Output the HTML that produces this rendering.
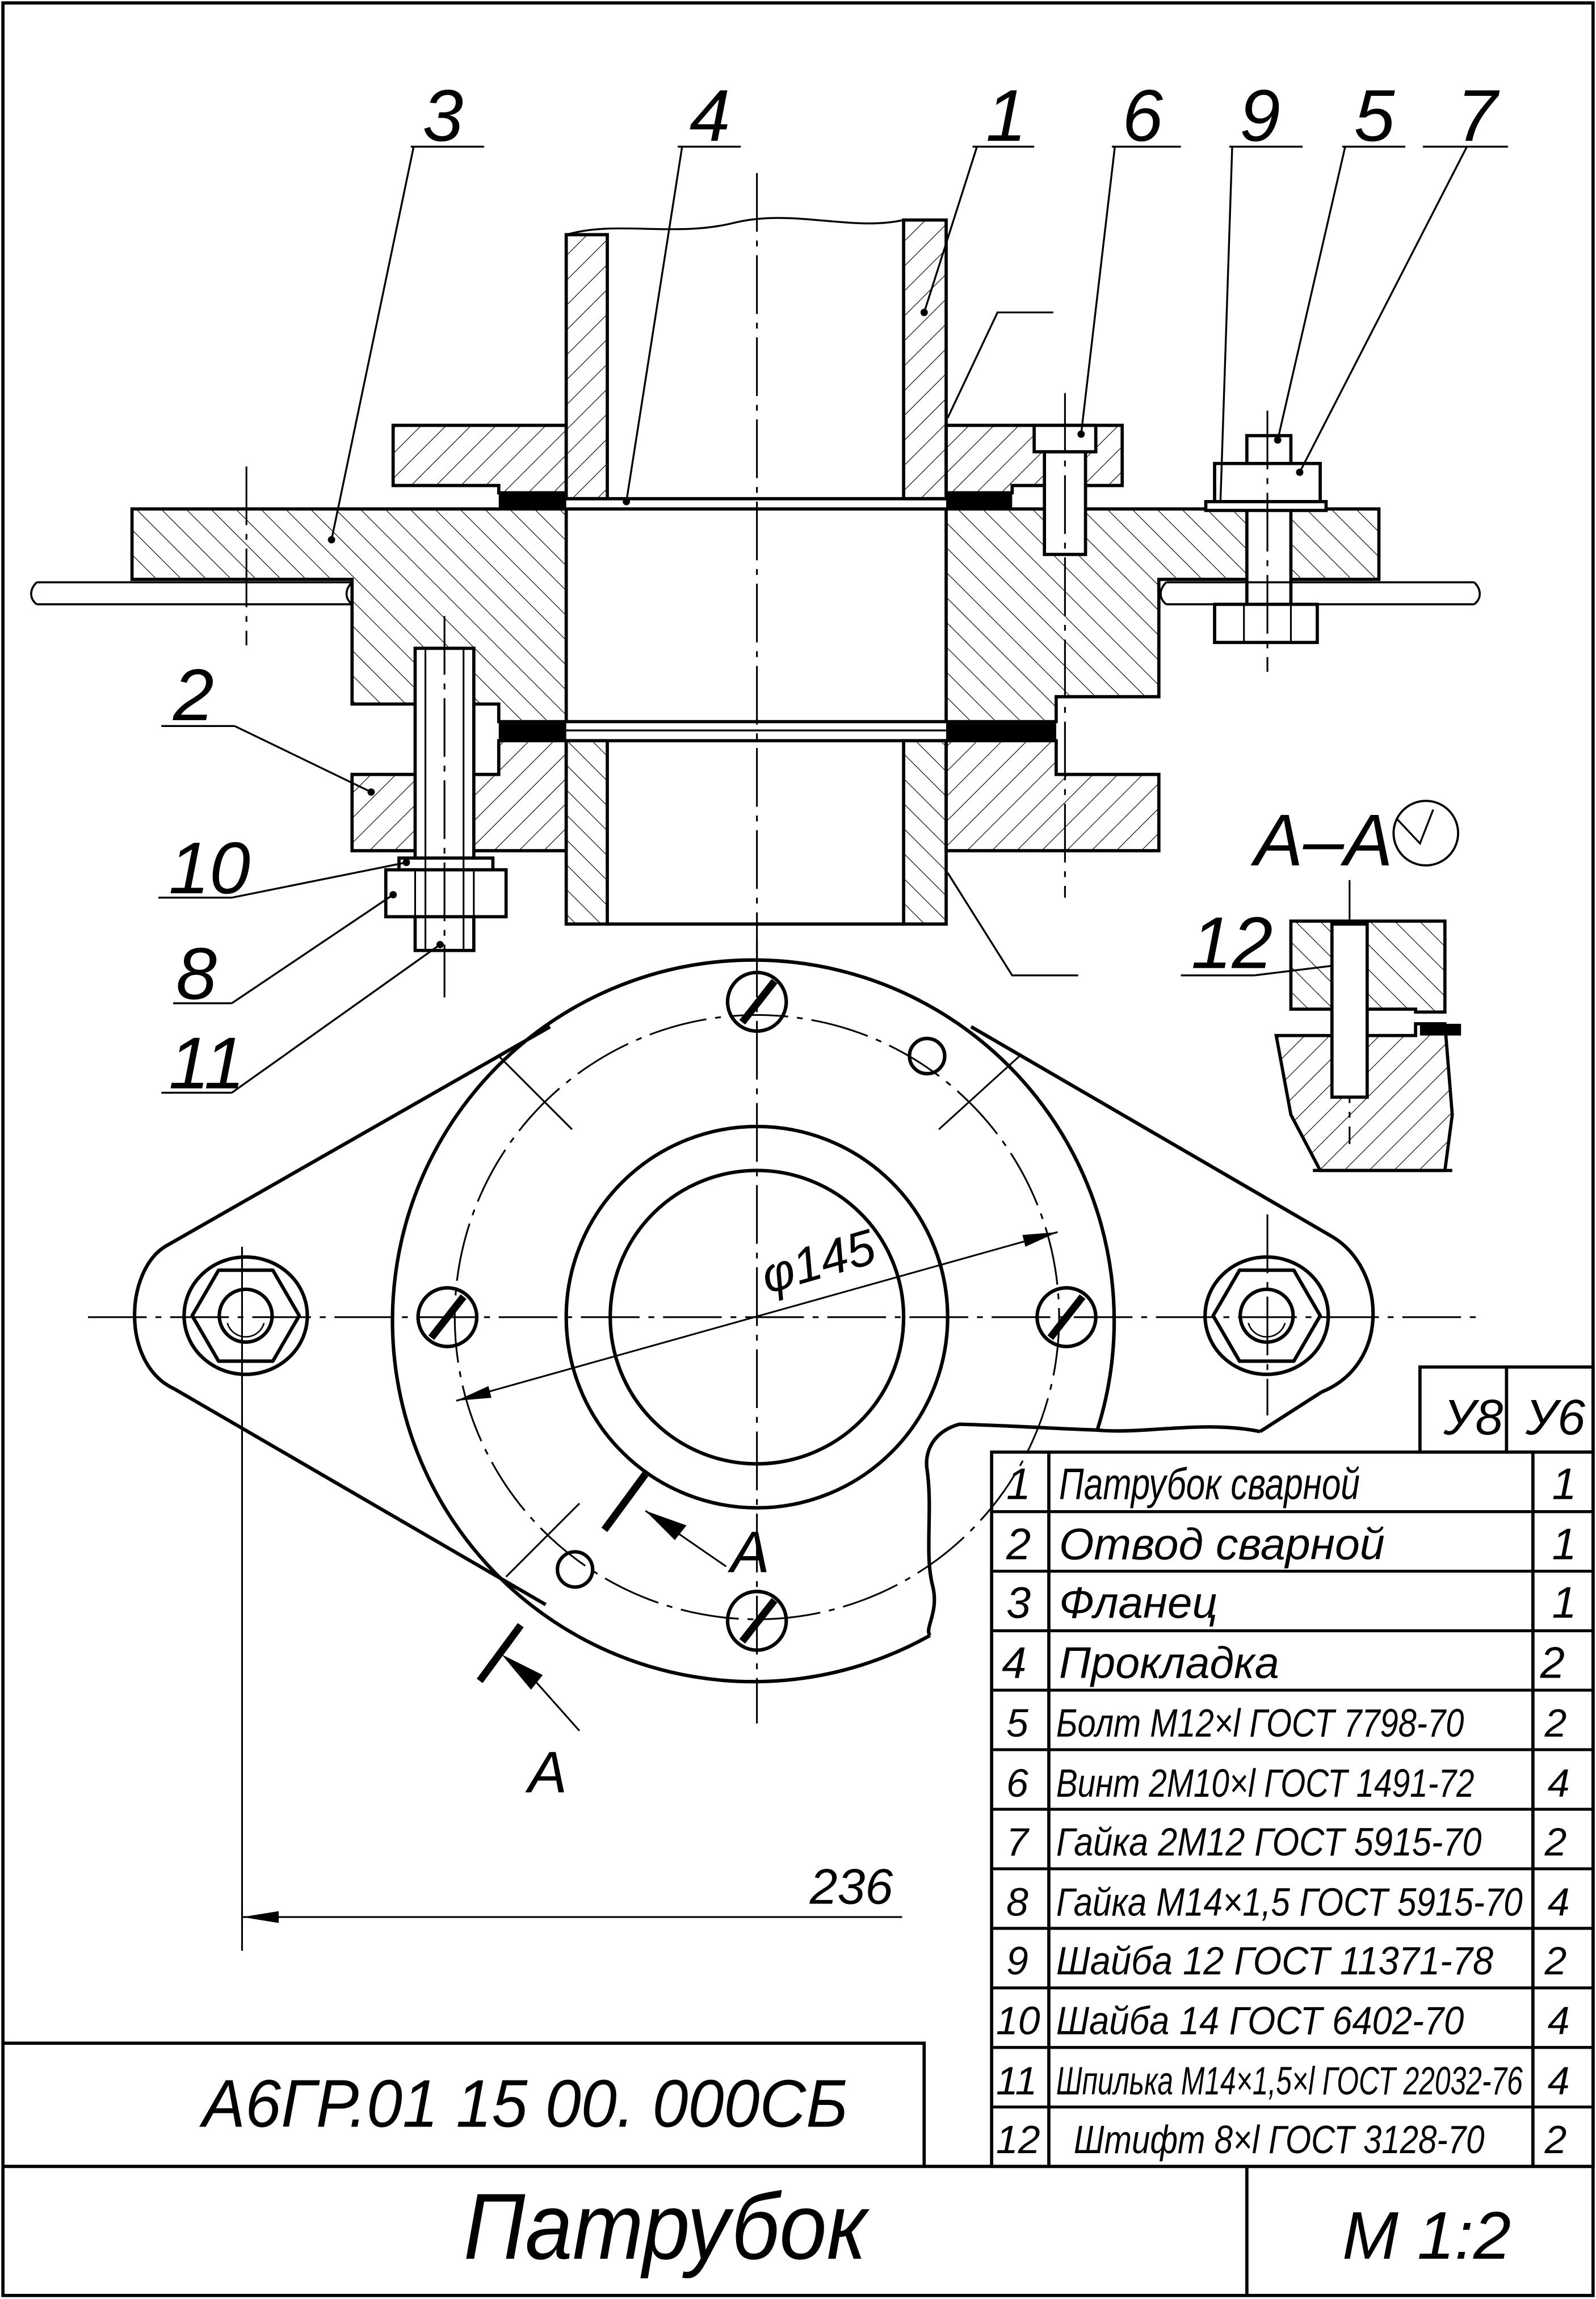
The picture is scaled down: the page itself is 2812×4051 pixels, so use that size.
<!DOCTYPE html>
<html><head><meta charset="utf-8"><style>
html,body{margin:0;padding:0;background:#fff}
svg{display:block}
text{font-family:"Liberation Sans","DejaVu Sans",sans-serif;font-style:italic;fill:#000}
</style></head><body>
<svg width="2812" height="4051" viewBox="0 0 1088 1567.4" preserveAspectRatio="none" xmlns="http://www.w3.org/2000/svg">
<defs>
<pattern id="h1" patternUnits="userSpaceOnUse" width="12" height="12" patternTransform="rotate(45)"><line x1="0" y1="0" x2="0" y2="12" stroke="#000" stroke-width="0.9"/></pattern>
<pattern id="h2" patternUnits="userSpaceOnUse" width="12" height="12" patternTransform="rotate(-45)"><line x1="0" y1="0" x2="0" y2="12" stroke="#000" stroke-width="0.9"/></pattern>
</defs>
<rect x="0" y="0" width="1088" height="1568" fill="#fff"/>
<g fill="none" stroke="#000" stroke-width="2.2">
<rect x="2" y="2" width="1084" height="1563"/>
<line x1="2" y1="1477" x2="1086" y2="1477"/>
<line x1="850" y1="1477" x2="850" y2="1565"/>
<polyline points="2,1393 630,1393 630,1477"/>
<rect x="968" y="932" width="118" height="58"/>
<line x1="1027" y1="932" x2="1027" y2="990"/>
<rect x="676" y="990" width="410" height="487"/>
<line x1="715" y1="990" x2="715" y2="1477"/>
<line x1="1045" y1="990" x2="1045" y2="1477"/>
</g>
<g stroke="#000" stroke-width="2">
<line x1="676" y1="1030.6" x2="1086" y2="1030.6"/><line x1="676" y1="1071.2" x2="1086" y2="1071.2"/>
<line x1="676" y1="1111.8" x2="1086" y2="1111.8"/><line x1="676" y1="1152.3" x2="1086" y2="1152.3"/>
<line x1="676" y1="1192.9" x2="1086" y2="1192.9"/><line x1="676" y1="1233.5" x2="1086" y2="1233.5"/>
<line x1="676" y1="1274.1" x2="1086" y2="1274.1"/><line x1="676" y1="1314.7" x2="1086" y2="1314.7"/>
<line x1="676" y1="1355.3" x2="1086" y2="1355.3"/><line x1="676" y1="1395.9" x2="1086" y2="1395.9"/>
<line x1="676" y1="1436.5" x2="1086" y2="1436.5"/>
</g>
<g font-size="30">
<text x="984" y="978" font-size="34">У8</text><text x="1040" y="978" font-size="34">У6</text>
<text x="686" y="1022">1</text><text x="722" y="1022" textLength="205" lengthAdjust="spacingAndGlyphs">Патрубок сварной</text><text x="1058" y="1022">1</text>
<text x="686" y="1063">2</text><text x="722" y="1063" textLength="222" lengthAdjust="spacingAndGlyphs">Отвод сварной</text><text x="1058" y="1063">1</text>
<text x="686" y="1103">3</text><text x="722" y="1103" textLength="108" lengthAdjust="spacingAndGlyphs">Фланец</text><text x="1058" y="1103">1</text>
<text x="683" y="1144">4</text><text x="722" y="1144" textLength="150" lengthAdjust="spacingAndGlyphs">Прокладка</text><text x="1050" y="1144">2</text>
</g>
<g font-size="27">
<text x="686" y="1184">5</text><text x="720" y="1184" textLength="278" lengthAdjust="spacingAndGlyphs">Болт М12×l ГОСТ 7798-70</text><text x="1053" y="1184">2</text>
<text x="686" y="1225">6</text><text x="720" y="1225" textLength="285" lengthAdjust="spacingAndGlyphs">Винт 2М10×l ГОСТ 1491-72</text><text x="1055" y="1225">4</text>
<text x="686" y="1265">7</text><text x="720" y="1265" textLength="290" lengthAdjust="spacingAndGlyphs">Гайка 2М12 ГОСТ 5915-70</text><text x="1053" y="1265">2</text>
<text x="686" y="1306">8</text><text x="720" y="1306" textLength="318" lengthAdjust="spacingAndGlyphs">Гайка М14×1,5 ГОСТ 5915-70</text><text x="1055" y="1306">4</text>
<text x="686" y="1346">9</text><text x="720" y="1346" textLength="298" lengthAdjust="spacingAndGlyphs">Шайба 12 ГОСТ 11371-78</text><text x="1053" y="1346">2</text>
<text x="679" y="1387">10</text><text x="720" y="1387" textLength="278" lengthAdjust="spacingAndGlyphs">Шайба 14 ГОСТ 6402-70</text><text x="1055" y="1387">4</text>
<text x="679" y="1428">11</text><text x="720" y="1428" textLength="318" lengthAdjust="spacingAndGlyphs">Шпилька М14×1,5×l ГОСТ 22032-76</text><text x="1055" y="1428">4</text>
<text x="679" y="1468">12</text><text x="732" y="1468" textLength="280" lengthAdjust="spacingAndGlyphs">Штифт 8×l ГОСТ 3128-70</text><text x="1053" y="1468">2</text>
</g>
<text x="138" y="1450" font-size="46" textLength="440" lengthAdjust="spacingAndGlyphs">А6ГР.01 15 00. 000СБ</text>
<text x="316" y="1540" font-size="64" textLength="275" lengthAdjust="spacingAndGlyphs">Патрубок</text>
<text x="915" y="1540" font-size="46">М   1:2</text>

<g stroke="#000" stroke-width="2.2" stroke-linejoin="miter">
<polygon points="386,160 414,160 414,340 386,340" fill="url(#h1)"/>
<polygon points="616,150 645,150 645,340 616,340" fill="url(#h1)"/>
<path d="M386,160 C420,150 460,162 500,152 S580,158 616,150" fill="none" stroke-width="1.3"/>
<polygon points="268,290 386,290 386,336 340,336 340,331 268,331" fill="url(#h1)"/>
<polygon points="645,290 765,290 765,331 690,331 690,336 645,336" fill="url(#h1)"/>
<polygon points="90,347 386,347 386,492 340,492 340,480 240,480 240,395 90,395" fill="url(#h2)"/>
<polygon points="645,347 940,347 940,395 790,395 790,475 720,475 720,492 645,492" fill="url(#h2)"/>
<polygon points="340,505 386,505 386,580 240,580 240,528 340,528" fill="url(#h1)"/>
<polygon points="645,505 720,505 720,528 790,528 790,580 645,580" fill="url(#h1)"/>
<polygon points="386,505 414,505 414,630 386,630" fill="url(#h2)"/>
<polygon points="616,505 645,505 645,630 616,630" fill="url(#h2)"/>
<line x1="414" y1="630" x2="616" y2="630"/>
<line x1="386" y1="347" x2="645" y2="347"/><line x1="386" y1="492" x2="645" y2="492"/>
<line x1="386" y1="505" x2="645" y2="505"/><line x1="386" y1="340" x2="645" y2="340"/>
<line x1="386" y1="498" x2="645" y2="498" stroke-width="1.3"/>
</g>
<rect x="340" y="337" width="46" height="9" fill="#000"/>
<rect x="645" y="337" width="45" height="9" fill="#000"/>
<rect x="340" y="493" width="46" height="11" fill="#000"/>
<rect x="645" y="493" width="75" height="11" fill="#000"/>
<g stroke="#000" stroke-width="2.2" fill="#fff">
<rect x="283" y="442" width="40" height="206"/>
<rect x="263" y="593" width="82" height="32"/>
<rect x="272" y="585" width="64" height="8"/>
<line x1="290" y1="442" x2="290" y2="648" stroke-width="1.2"/><line x1="316" y1="442" x2="316" y2="648" stroke-width="1.2"/>
<line x1="283" y1="593" x2="283" y2="625" stroke-width="1.2"/><line x1="323" y1="593" x2="323" y2="625" stroke-width="1.2"/>
<rect x="712" y="308" width="28" height="70"/>
<rect x="705" y="290" width="42" height="18"/>
<rect x="850" y="297" width="30" height="118"/>
<rect x="828" y="316" width="72" height="26"/>
<rect x="822" y="342" width="82" height="6"/>
<rect x="828" y="412" width="70" height="26"/>
<line x1="848" y1="412" x2="848" y2="438" stroke-width="1.2"/><line x1="880" y1="412" x2="880" y2="438" stroke-width="1.2"/>
</g>
<g stroke="#000" stroke-width="1.4" fill="none">
<path d="M25,397 L240,397 M25,412 L240,412 M25,397 C20,402 20,408 25,412 M240,397 C235,402 235,408 240,412"/>
<path d="M795,397 L1005,397 M795,412 L1005,412 M1005,397 C1010,402 1010,408 1005,412 M795,397 C790,402 790,408 795,412"/>
</g>
<g stroke="#000" stroke-width="1.2" stroke-dasharray="40,6,4,6" fill="none">
<line x1="516" y1="118" x2="516" y2="655"/>
<line x1="168" y1="318" x2="168" y2="440"/>
<line x1="303" y1="420" x2="303" y2="680"/>
<line x1="726" y1="268" x2="726" y2="612"/>
<line x1="864" y1="280" x2="864" y2="458"/>
<line x1="60" y1="898" x2="1012" y2="898"/>
<line x1="516" y1="640" x2="516" y2="1175"/>
<line x1="864" y1="828" x2="864" y2="965"/>
<line x1="920" y1="600" x2="920" y2="780"/>
</g>
<g stroke="#000" stroke-width="1.3" fill="none">
<polyline points="646,285 680,213 718,213"/>
<polyline points="646,595 690,665 735,665"/>
<polyline points="280,100 330,100"/><line x1="282" y1="100" x2="226" y2="368"/>
<polyline points="462,100 505,100"/><line x1="465" y1="100" x2="427" y2="342"/>
<polyline points="663,100 705,100"/><line x1="666" y1="100" x2="630" y2="213"/>
<polyline points="758,100 805,100"/><line x1="760" y1="100" x2="737" y2="296"/>
<polyline points="838,100 888,100"/><line x1="840" y1="100" x2="832" y2="342"/>
<polyline points="915,100 958,100"/><line x1="917" y1="100" x2="871" y2="300"/>
<polyline points="970,100 1028,100"/><line x1="1000" y1="100" x2="886" y2="322"/>
<polyline points="110,495 160,495"/><line x1="160" y1="495" x2="253" y2="540"/>
<polyline points="108,612 158,612"/><line x1="158" y1="612" x2="277" y2="588"/>
<polyline points="118,684 158,684"/><line x1="158" y1="684" x2="268" y2="610"/>
<polyline points="110,745 158,745"/><line x1="158" y1="745" x2="300" y2="644"/>
<polyline points="805,665 855,665"/><line x1="855" y1="665" x2="928" y2="656"/>
</g>
<g fill="#000">
<circle cx="226" cy="368" r="2.5"/><circle cx="427" cy="342" r="2.5"/><circle cx="630" cy="213" r="2.5"/>
<circle cx="737" cy="296" r="2.5"/><circle cx="871" cy="300" r="2.5"/><circle cx="886" cy="322" r="2.5"/>
<circle cx="253" cy="540" r="2.5"/><circle cx="277" cy="588" r="2.5"/><circle cx="268" cy="610" r="2.5"/>
<circle cx="300" cy="644" r="2.5"/><circle cx="928" cy="656" r="2.5"/>
</g>
<g font-size="50">
<text x="288" y="96">3</text><text x="470" y="96">4</text><text x="672" y="96">1</text>
<text x="765" y="96">6</text><text x="845" y="96">9</text><text x="923" y="96">5</text><text x="993" y="96">7</text>
<text x="118" y="491">2</text><text x="115" y="609">10</text><text x="120" y="681">8</text><text x="115" y="742">11</text>
<text x="812" y="660">12</text>
<text x="855" y="590">А–А</text>
<text x="498" y="1072" font-size="40">А</text>
<text x="360" y="1222" font-size="40">А</text>
<text x="552" y="1298" font-size="34">236</text>
</g>
<circle cx="972" cy="568" r="22" fill="none" stroke="#000" stroke-width="1.5"/>
<polyline points="952,558 968,575 977,552" fill="none" stroke="#000" stroke-width="1.3"/>

<g stroke="#000" stroke-width="2.2">
<polygon points="880,628 985,628 985,690 965,690 965,688 880,688" fill="url(#h2)"/>
<path d="M870,706 L965,706 L965,698 L985,698 L990,760 L985,798 L900,798 L880,760 Z" fill="url(#h1)"/>
<rect x="908" y="630" width="24" height="118" fill="#fff"/>
<line x1="895" y1="798" x2="990" y2="798"/>
</g>
<rect x="968" y="698" width="28" height="8" fill="#000"/>

<g stroke="#000" stroke-width="2.4" fill="none" stroke-linejoin="round">
<path d="M634,1115 A246,246 0 1 1 748,975"/>
<path d="M859,976 C820,968 780,978 748,975 C720,974 690,972 654,971 C636,976 630,990 632,1002 C636,1030 630,1060 636,1082 C640,1100 630,1110 634,1115"/>
<circle cx="516" cy="898" r="130"/>
<circle cx="516" cy="898" r="100"/>
<line x1="114" y1="849" x2="375" y2="700"/>
<path d="M114,849 C85,865 82,930 119,947"/>
<line x1="119" y1="947" x2="372" y2="1094"/>
<line x1="662" y1="700" x2="908" y2="843"/>
<path d="M908,843 C945,865 948,930 901,949"/>
<line x1="901" y1="949" x2="859" y2="976"/>
<ellipse cx="167.5" cy="897" rx="42" ry="40"/>
<ellipse cx="863.5" cy="897" rx="42" ry="40"/>
<polygon points="204,897 186,928 149,928 131,897 149,866 186,866"/>
<polygon points="900,897 882,928 845,928 827,897 845,866 882,866"/>
<circle cx="167.5" cy="897" r="18"/><circle cx="863.5" cy="897" r="18"/>
<circle cx="516" cy="683" r="20"/><circle cx="516" cy="1105" r="20"/>
<circle cx="305" cy="898" r="20"/><circle cx="727" cy="898" r="20"/>
<circle cx="632" cy="720" r="12"/><circle cx="392" cy="1070" r="12"/>
</g>
<g stroke="#000" stroke-width="1" fill="none">
<path d="M155,902 A13,13 0 0 0 180,902"/>
<path d="M851,902 A13,13 0 0 0 876,902"/>
</g>
<g stroke="#000" stroke-width="5">
<line x1="506" y1="697" x2="528" y2="669"/><line x1="506" y1="1119" x2="528" y2="1091"/>
<line x1="294" y1="912" x2="316" y2="884"/><line x1="716" y1="912" x2="738" y2="884"/>
<line x1="412" y1="1043" x2="440" y2="1005"/><line x1="327" y1="1146" x2="355" y2="1108"/>
</g>
<circle cx="516" cy="898" r="206" fill="none" stroke="#000" stroke-width="1.2" stroke-dasharray="40,6,4,6"/>
<g stroke="#000" stroke-width="1.2">
<line x1="340" y1="720" x2="390" y2="770"/><line x1="640" y1="770" x2="695" y2="720"/>
<line x1="345" y1="1075" x2="395" y2="1025"/>
<line x1="311" y1="955" x2="721" y2="840"/>
<line x1="165" y1="850" x2="165" y2="1330"/>
<line x1="165" y1="1307" x2="615" y2="1307"/>
<line x1="440" y1="1030" x2="495" y2="1068"/>
<line x1="355" y1="1135" x2="395" y2="1180"/>
</g>
<g fill="#000">
<polygon points="311,955 333,945 335,953"/>
<polygon points="721,840 699,850 697,842"/>
<polygon points="165,1307 190,1303 190,1311"/>
<polygon points="440,1030 468,1040 460,1050"/>
<polygon points="342,1128 370,1142 362,1152"/>
</g>
<text x="0" y="0" font-size="34" transform="translate(523,882) rotate(-16)">φ145</text>
</svg>
</body></html>
